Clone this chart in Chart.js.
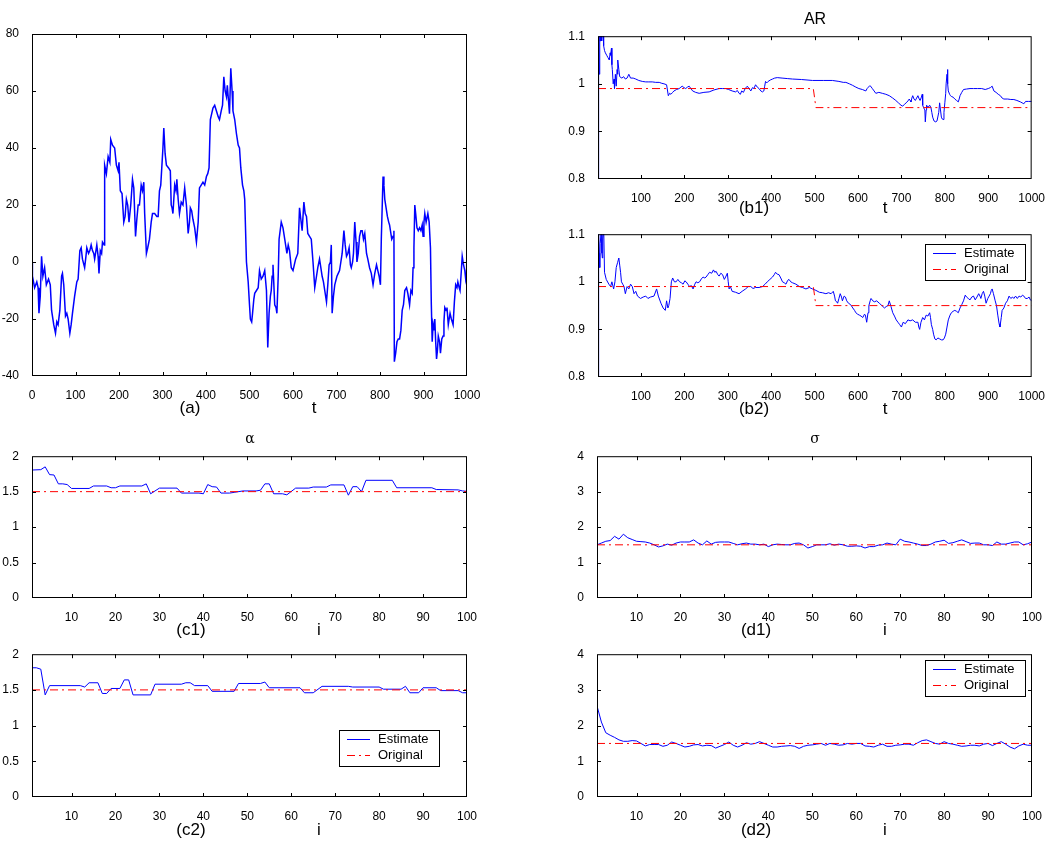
<!DOCTYPE html>
<html>
<head>
<meta charset="utf-8">
<script src="https://cdn.jsdelivr.net/npm/chart.js@4.4.1/dist/chart.umd.min.js"></script>
<style>
  body { margin: 0; background: #fff; width: 1049px; height: 844px; position: relative; overflow: hidden;
         font-family: "Liberation Sans", Arial, sans-serif; }
  canvas { position: absolute; }
  .lbl { position: absolute; transform: translate(-50%, -50%); white-space: nowrap; color: #000; }
  .cap { font-size: 17px; }
  .ttl { font-size: 16px; }
  .sym { font-family: "DejaVu Serif", "Liberation Serif", serif; font-size: 14px; }
</style>
</head>
<body>
<canvas id="chartA" width="490" height="380" style="left:0;top:20px"></canvas>
<canvas id="chartB1" width="489" height="179" style="left:560px;top:24px"></canvas>
<canvas id="chartB2" width="489" height="179" style="left:560px;top:222px"></canvas>
<canvas id="chartC1" width="490" height="178" style="left:0;top:444px"></canvas>
<canvas id="chartC2" width="490" height="179" style="left:0;top:642px"></canvas>
<canvas id="chartD1" width="489" height="178" style="left:560px;top:444px"></canvas>
<canvas id="chartD2" width="489" height="179" style="left:560px;top:642px"></canvas>

<div class="lbl ttl" style="left:815px;top:19px">AR</div>
<div class="lbl sym" style="left:250px;top:438px">α</div>
<div class="lbl sym" style="left:815px;top:438px">σ</div>

<div class="lbl cap" style="left:190px;top:408px">(a)</div>
<div class="lbl cap" style="left:314px;top:408px">t</div>
<div class="lbl cap" style="left:754px;top:208px">(b1)</div>
<div class="lbl cap" style="left:885px;top:208px">t</div>
<div class="lbl cap" style="left:754px;top:409px">(b2)</div>
<div class="lbl cap" style="left:885px;top:409px">t</div>
<div class="lbl cap" style="left:191px;top:630px">(c1)</div>
<div class="lbl cap" style="left:319px;top:630px">i</div>
<div class="lbl cap" style="left:191px;top:830px">(c2)</div>
<div class="lbl cap" style="left:319px;top:830px">i</div>
<div class="lbl cap" style="left:756px;top:630px">(d1)</div>
<div class="lbl cap" style="left:885px;top:630px">i</div>
<div class="lbl cap" style="left:756px;top:830px">(d2)</div>
<div class="lbl cap" style="left:885px;top:830px">i</div>

<script>
// tick values
const ticksT0 = [0, 100, 200, 300, 400, 500, 600, 700, 800, 900, 1000];
const ticksT = [100, 200, 300, 400, 500, 600, 700, 800, 900, 1000];
const ticksI = [10, 20, 30, 40, 50, 60, 70, 80, 90, 100];
const yTicksA = [-40, -20, 0, 20, 40, 60, 80];
const yTicksAR = [0.8, 0.9, 1, 1.1];
const yTicksAlpha = [0, 0.5, 1, 1.5, 2];
const yTicksSigma = [0, 1, 2, 3, 4];

// simulated series, [t, value]
const seriesA = [[0,0],[1,-5],[6,-9],[11,-7],[14,-9],[16,-18],[19,-12],[22,2],[25,-5],[29,-2],[33,-8],[38,-6],[42,-8],
  [45,-17],[50,-22],[54,-25],[57,-21],[60,-22],[64,-17],[68,-5],[70,-4],[73,-8],[77,-19],[80,-18],[83,-20],[87,-25],
  [90,-22],[93,-18],[98,-12],[103,-7],[106,-6],[110,4],[113,5],[116,1],[121,-2],[124,2],[126,5],[130,3],[133,4],
  [136,6],[139,4],[142,3],[144,1],[147,4],[149,6],[152,2],[154,-4],[157,4],[160,3],[162,7],[166,6],[167,34],[171,31],
  [175,37],[179,35],[181,43],[185,41],[190,40],[194,34],[198,32],[200,35],[203,25],[207,24],[211,14],[214,16],[217,22],
  [220,20],[223,14],[227,20],[231,29],[234,26],[238,9],[241,15],[244,20],[247,20],[251,27],[254,25],[257,28],[259,17],
  [263,3],[266,5],[270,8],[274,14],[277,17],[282,17],[287,16],[290,16],[293,25],[296,27],[301,40],[303,47],[306,38],
  [309,34],[314,33],[318,32],[320,20],[322,19],[324,17],[328,27],[331,25],[333,29],[336,22],[339,17],[343,21],[347,20],
  [351,26],[355,20],[359,10],[362,14],[364,19],[367,18],[370,15],[374,12],[378,7],[382,14],[385,26],[389,27],[393,28],
  [397,27],[401,30],[404,31],[407,33],[410,50],[413,52],[416,54],[420,55],[424,53],[428,51],[431,50],[435,53],[438,55],
  [441,65],[444,60],[447,58],[449,62],[451,58],[454,52],[457,68],[460,60],[462,53],[466,50],[470,45],[474,41],[477,40],
  [480,33],[484,27],[487,25],[489,22],[493,0],[497,-7],[500,-15],[502,-20],[505,-21],[507,-18],[510,-13],[512,-11],
  [516,-10],[520,-9],[523,-3],[527,-6],[531,-5],[535,-3],[539,-10],[542,-30],[545,-18],[548,-12],[550,-10],[552,-5],
  [554,-1],[558,-15],[561,-16],[563,-18],[566,-5],[568,8],[573,14],[577,12],[581,8],[584,5],[586,3],[589,6],[592,4],
  [596,-2],[600,-3],[603,-1],[606,1],[611,3],[615,19],[618,15],[621,11],[625,21],[628,17],[631,16],[634,10],[638,9],
  [642,8],[646,0],[650,-9],[654,-5],[657,-2],[661,1],[664,-2],[667,-5],[670,-7],[673,-10],[677,-14],[680,-8],[683,-1],
  [686,0],[688,6],[690,-18],[693,-12],[696,-8],[701,-5],[704,-4],[707,-3],[710,0],[713,3],[717,11],[720,6],[723,2],
  [726,3],[729,5],[732,-1],[734,-2],[737,0],[739,3],[742,14],[745,7],[747,0],[750,3],[753,9],[756,11],[759,11],[762,8],
  [765,10],[769,3],[772,1],[776,-2],[780,-4],[784,-8],[788,-4],[792,-1],[795,-3],[798,-5],[801,-8],[803,8],[807,30],
  [809,27],[811,22],[814,19],[817,16],[820,14],[822,13],[825,10],[827,8],[830,9],[832,11],[833,-35],[836,-32],[839,-28],
  [842,-27],[845,-27],[848,-24],[851,-17],[854,-15],[857,-10],[861,-9],[864,-11],[868,-15],[871,-10],[874,-11],[876,-2],
  [878,5],[880,20],[882,17],[885,12],[888,11],[891,12],[894,11],[897,13],[899,9],[901,14],[903,17],[906,14],[910,17],
  [913,14],[916,5],[918,-15],[920,-28],[922,-22],[924,-24],[926,-20],[928,-28],[930,-34],[932,-31],[934,-26],[937,-28],
  [939,-32],[942,-27],[945,-26],[947,-21],[949,-16],[952,-17],[954,-16],[957,-22],[959,-20],[961,-18],[964,-20],
  [966,-21],[968,-22],[971,-14],[974,-8],[977,-9],[979,-7],[982,-9],[984,-10],[987,-3],[989,2],[992,-1],[995,-3],
  [997,-6],[999,-4],[1000,10]];

// AR coefficient estimates
const estB1 = [[1,0.8],[2,1.03],[3,1.1],[4,1.02],[5,1.12],[6,1.09],[7,1.12],[8,1.1],[9,1.13],[10,1.09],[11,1.12],
  [12,1.1],[13,1.11],[14,1.08],[16,1.07],[18,1.065],[21,1.06],[24,1.055],[27,1.05],[29,1.065],[30,1.06],[32,1.075],
  [33,1.04],[34,1.03],[36,1.0],[38,1.01],[39,0.99],[41,1.02],[43,0.995],[45,1.03],[46,1.02],[47,1.05],[49,1.03],
  [51,1.015],[56,1.012],[60,1.015],[64,1.01],[68,1.012],[72,1.02],[76,1.012],[82,1.012],[88,1.01],[95,1.007],
  [103,1.005],[111,1.004],[118,1.004],[126,1.004],[134,1.003],[142,1.003],[148,1.001],[153,1.0],[159,0.998],
  [163,0.975],[166,0.98],[169,0.978],[173,0.982],[176,0.985],[182,0.988],[188,0.99],[192,0.993],[195,0.995],
  [199,0.992],[203,0.99],[207,0.993],[211,0.995],[215,0.99],[219,0.985],[226,0.982],[234,0.98],[245,0.982],
  [257,0.983],[268,0.987],[280,0.99],[288,0.99],[295,0.99],[302,0.988],[310,0.985],[318,0.983],[322,0.986],
  [326,0.98],[329,0.978],[332,0.985],[336,0.982],[340,0.99],[345,0.995],[349,0.99],[353,0.985],[357,0.992],[360,0.99],
  [364,0.998],[368,0.993],[372,0.99],[376,0.985],[380,0.983],[383,0.985],[385,0.995],[387,1.005],[390,1.002],
  [393,1.005],[398,1.008],[403,1.01],[408,1.012],[414,1.013],[425,1.012],[437,1.011],[449,1.01],[470,1.009],
  [495,1.007],[520,1.007],[541,1.007],[556,1.005],[566,1.003],[572,1.003],[580,1.0],[587,0.997],[595,0.993],
  [602,0.99],[610,0.988],[618,0.985],[621,0.99],[624,0.993],[627,0.996],[629,0.995],[633,0.99],[637,0.985],
  [641,0.98],[648,0.982],[656,0.98],[664,0.978],[672,0.975],[680,0.97],[687,0.965],[693,0.96],[699,0.955],
  [703,0.953],[707,0.957],[711,0.96],[715,0.964],[718,0.968],[720,0.965],[722,0.962],[724,0.97],[726,0.975],
  [729,0.968],[732,0.965],[735,0.97],[738,0.975],[741,0.968],[743,0.965],[746,0.972],[748,0.978],[749,0.955],
  [751,0.95],[754,0.945],[755,0.92],[757,0.945],[758,0.955],[761,0.95],[765,0.955],[768,0.95],[770,0.94],[772,0.93],
  [775,0.922],[779,0.92],[782,0.922],[784,0.922],[786,0.94],[788,0.96],[790,0.945],[792,0.93],[794,0.926],
  [796,0.925],[798,0.94],[800,0.96],[802,0.98],[803,1.0],[805,1.02],[806,1.03],[807,1.0],[808,0.985],[811,0.978],
  [813,0.975],[816,0.973],[819,0.972],[823,0.968],[827,0.965],[831,0.962],[833,0.968],[835,0.975],[839,0.982],
  [843,0.988],[850,0.989],[858,0.99],[866,0.99],[875,0.99],[885,0.99],[893,0.988],[900,0.99],[905,0.992],
  [909,0.995],[913,0.985],[918,0.982],[923,0.978],[928,0.975],[932,0.97],[936,0.968],[945,0.968],[952,0.967],
  [959,0.967],[966,0.965],[974,0.962],[978,0.96],[982,0.958],[986,0.963],[993,0.963],[1000,0.963]];

const estB2 = [[1,0.8],[2,0.976],[3,1.1],[4,1.06],[5,1.03],[6,1.08],[8,1.1],[10,1.06],[11,1.05],[12,1.09],[13,1.1],
  [14,1.12],[16,1.02],[20,1.005],[26,0.995],[30,0.99],[33,1.0],[37,0.985],[40,1.0],[43,1.03],[46,1.04],[49,1.05],
  [51,1.035],[53,1.02],[55,1.0],[58,0.995],[61,0.99],[64,0.975],[68,0.99],[72,0.985],[76,0.995],[80,0.99],
  [84,0.975],[88,0.98],[92,0.97],[99,0.965],[105,0.968],[111,0.97],[116,0.965],[122,0.968],[130,0.97],[136,0.985],
  [140,0.97],[146,0.955],[151,0.945],[156,0.94],[159,0.96],[162,0.945],[164,0.95],[167,0.965],[170,1.0],[173,1.008],
  [177,1.0],[181,1.0],[185,1.005],[189,1.0],[193,0.998],[197,0.995],[201,1.002],[204,1.0],[208,0.995],[212,0.99],
  [216,0.992],[220,0.985],[224,0.995],[227,1.0],[231,0.998],[235,1.0],[239,1.006],[243,1.01],[247,1.008],[250,1.01],
  [254,1.015],[258,1.02],[263,1.018],[267,1.025],[270,1.02],[273,1.022],[277,1.015],[280,1.012],[284,1.018],
  [288,1.015],[292,1.005],[295,1.01],[299,1.018],[301,1.0],[303,0.985],[306,0.99],[310,0.98],[318,0.978],[326,0.975],
  [333,0.98],[341,0.985],[347,0.99],[353,0.99],[358,0.986],[364,0.988],[372,0.988],[380,0.99],[386,0.995],[391,1.0],
  [397,1.005],[403,1.01],[407,1.015],[410,1.02],[414,1.016],[418,1.015],[422,1.008],[426,1.0],[430,0.998],
  [434,0.995],[438,1.003],[441,1.005],[445,1.0],[449,0.998],[457,0.995],[465,0.99],[472,0.988],[480,0.985],
  [488,0.988],[495,0.985],[503,0.982],[511,0.978],[518,0.977],[526,0.975],[532,0.977],[538,0.975],[543,0.98],
  [546,0.97],[548,0.96],[551,0.958],[553,0.955],[556,0.965],[559,0.975],[562,0.968],[564,0.96],[568,0.97],
  [571,0.968],[574,0.96],[578,0.955],[583,0.952],[588,0.945],[592,0.94],[595,0.935],[599,0.932],[603,0.93],
  [607,0.928],[611,0.925],[615,0.932],[617,0.93],[620,0.915],[623,0.935],[625,0.95],[628,0.96],[630,0.965],
  [634,0.96],[638,0.958],[643,0.96],[649,0.955],[655,0.95],[661,0.945],[665,0.948],[669,0.95],[672,0.96],
  [676,0.948],[680,0.935],[684,0.928],[688,0.92],[692,0.915],[696,0.91],[700,0.905],[704,0.915],[709,0.912],
  [715,0.92],[720,0.918],[726,0.92],[732,0.915],[738,0.915],[740,0.905],[742,0.9],[745,0.915],[749,0.925],
  [753,0.92],[757,0.93],[761,0.928],[765,0.935],[767,0.925],[769,0.91],[772,0.9],[774,0.89],[777,0.88],[780,0.878],
  [784,0.882],[788,0.88],[792,0.878],[796,0.878],[799,0.882],[802,0.89],[805,0.905],[808,0.92],[812,0.93],
  [815,0.935],[819,0.938],[823,0.94],[827,0.938],[831,0.935],[835,0.945],[839,0.952],[843,0.96],[847,0.972],
  [850,0.968],[854,0.965],[858,0.962],[862,0.968],[866,0.97],[870,0.962],[874,0.968],[878,0.975],[881,0.97],
  [883,0.965],[886,0.975],[889,0.98],[892,0.97],[895,0.955],[899,0.965],[902,0.97],[905,0.975],[907,0.982],
  [909,0.985],[912,0.975],[916,0.96],[919,0.95],[922,0.93],[925,0.912],[927,0.905],[930,0.925],[932,0.94],
  [936,0.945],[940,0.955],[944,0.96],[948,0.97],[952,0.965],[956,0.968],[959,0.965],[963,0.97],[967,0.965],
  [971,0.97],[975,0.968],[979,0.972],[982,0.97],[986,0.965],[990,0.965],[994,0.968],[997,0.962],[1000,0.96]];

const trueAR = [[1,0.99],[497,0.99],[503,0.95],[1000,0.95]];

// alpha estimates per window i
const estC1 = [[1,1.805],[3,1.81],[4,1.85],[5,1.74],[6,1.735],[7,1.61],[8,1.61],[9,1.6],[10,1.545],[14,1.545],
  [15,1.58],[18,1.58],[19,1.555],[20,1.555],[21,1.58],[26,1.58],[27,1.61],[28,1.47],[30,1.55],[34,1.55],[35,1.48],
  [39,1.48],[40,1.47],[41,1.6],[42,1.57],[43,1.565],[44,1.48],[46,1.48],[47,1.49],[49,1.51],[52,1.51],[53,1.52],
  [54,1.61],[55,1.61],[56,1.47],[58,1.47],[59,1.455],[61,1.55],[64,1.55],[65,1.565],[68,1.565],[69,1.595],
  [72,1.595],[73,1.45],[74,1.57],[75,1.57],[76,1.5],[77,1.66],[83,1.66],[84,1.555],[92,1.555],[93,1.53],[98,1.525],
  [99,1.51],[100,1.505]];
const estC2 = [[1,1.81],[2,1.81],[3,1.79],[4,1.43],[5,1.56],[12,1.56],[13,1.54],[14,1.6],[16,1.6],[17,1.45],
  [18,1.45],[19,1.52],[21,1.52],[22,1.64],[23,1.64],[24,1.43],[28,1.43],[29,1.58],[35,1.58],[36,1.6],[37,1.6],
  [38,1.56],[41,1.56],[42,1.48],[47,1.48],[48,1.59],[53,1.59],[54,1.61],[55,1.53],[62,1.53],[63,1.46],[65,1.46],
  [67,1.55],[73,1.55],[74,1.54],[80,1.54],[81,1.51],[85,1.51],[86,1.55],[87,1.46],[89,1.46],[90,1.53],[93,1.53],
  [94,1.49],[98,1.49],[99,1.46],[100,1.46]];

// sigma estimates per window i
const estD1 = [[1,1.5],[2,1.55],[3,1.6],[4,1.62],[5,1.74],[6,1.66],[7,1.8],[8,1.7],[9,1.65],[10,1.6],[11,1.59],
  [12,1.58],[13,1.55],[14,1.5],[15,1.44],[16,1.47],[17,1.52],[18,1.49],[19,1.55],[20,1.58],[21,1.58],[22,1.58],
  [23,1.64],[24,1.55],[25,1.5],[26,1.61],[27,1.52],[28,1.57],[29,1.58],[30,1.58],[31,1.58],[32,1.54],[33,1.5],
  [34,1.53],[35,1.55],[36,1.52],[37,1.52],[38,1.5],[39,1.52],[40,1.45],[41,1.5],[42,1.52],[43,1.51],[44,1.5],
  [45,1.5],[46,1.54],[47,1.55],[48,1.5],[49,1.41],[50,1.45],[51,1.5],[52,1.5],[53,1.5],[54,1.53],[55,1.49],
  [56,1.52],[57,1.5],[58,1.46],[59,1.46],[60,1.47],[61,1.46],[62,1.41],[63,1.45],[64,1.45],[65,1.49],[66,1.5],
  [67,1.55],[68,1.52],[69,1.5],[70,1.66],[71,1.6],[72,1.58],[73,1.55],[74,1.52],[75,1.48],[76,1.48],[77,1.52],
  [78,1.58],[79,1.6],[80,1.63],[81,1.54],[82,1.56],[83,1.6],[84,1.64],[85,1.59],[86,1.54],[87,1.55],[88,1.55],
  [89,1.5],[90,1.5],[91,1.48],[92,1.58],[93,1.52],[94,1.52],[95,1.55],[96,1.58],[97,1.58],[98,1.5],[99,1.53],
  [100,1.58]];
const estD2 = [[1,2.55],[2,2.1],[3,1.8],[4,1.73],[5,1.67],[6,1.6],[7,1.56],[8,1.56],[9,1.58],[10,1.57],[11,1.5],
  [12,1.43],[13,1.47],[14,1.47],[15,1.47],[16,1.42],[17,1.45],[18,1.54],[19,1.5],[20,1.45],[21,1.4],[22,1.42],
  [23,1.46],[24,1.47],[25,1.43],[26,1.45],[27,1.44],[28,1.37],[29,1.42],[30,1.47],[31,1.54],[32,1.45],[33,1.4],
  [34,1.45],[35,1.52],[36,1.48],[37,1.5],[38,1.55],[39,1.5],[40,1.45],[41,1.4],[42,1.4],[43,1.42],[44,1.43],
  [45,1.44],[46,1.42],[47,1.36],[48,1.42],[49,1.45],[50,1.46],[51,1.48],[52,1.5],[53,1.45],[54,1.5],[55,1.48],
  [56,1.45],[57,1.46],[58,1.5],[59,1.48],[60,1.5],[61,1.5],[62,1.43],[63,1.42],[64,1.4],[65,1.45],[66,1.48],
  [67,1.42],[68,1.42],[69,1.45],[70,1.46],[71,1.48],[72,1.48],[73,1.45],[74,1.52],[75,1.58],[76,1.6],[77,1.55],
  [78,1.5],[79,1.48],[80,1.55],[81,1.5],[82,1.48],[83,1.45],[84,1.42],[85,1.43],[86,1.45],[87,1.45],[88,1.43],
  [89,1.48],[90,1.5],[91,1.44],[92,1.5],[93,1.55],[94,1.48],[95,1.4],[96,1.35],[97,1.43],[98,1.48],[99,1.45],
  [100,1.45]];

const trueAlpha = [[1,1.5],[100,1.5]];
const trueSigma = [[1,1.5],[100,1.5]];

const BLUE = "#0000ff";
const RED = "#ff0000";
const DASHDOT = [8, 4, 2, 4];
const FONT = "'Liberation Sans', Arial, sans-serif";

Chart.defaults.font.family = FONT;
Chart.defaults.font.size = 12;
Chart.defaults.color = "#000";

// matlab-like box with inward ticks on all four sides
const frameTicks = {
  id: "frameTicks",
  afterDraw(chart) {
    const { ctx, chartArea: a } = chart;
    const len = 4;
    ctx.save();
    ctx.strokeStyle = "#000";
    ctx.lineWidth = 1;
    ctx.strokeRect(a.left + 0.5, a.top + 0.5, a.width - 1, a.height - 1);
    ctx.beginPath();
    chart.scales.x.ticks.forEach((t) => {
      const x = Math.round(chart.scales.x.getPixelForValue(t.value)) + 0.5;
      if (x < a.left + 2 || x > a.right - 2) return;
      ctx.moveTo(x, a.bottom);
      ctx.lineTo(x, a.bottom - len);
      ctx.moveTo(x, a.top);
      ctx.lineTo(x, a.top + len);
    });
    chart.scales.y.ticks.forEach((t) => {
      const y = Math.round(chart.scales.y.getPixelForValue(t.value)) + 0.5;
      if (y < a.top + 2 || y > a.bottom - 2) return;
      ctx.moveTo(a.left, y);
      ctx.lineTo(a.left + len, y);
      ctx.moveTo(a.right, y);
      ctx.lineTo(a.right - len, y);
    });
    ctx.stroke();
    ctx.restore();
  },
};

// boxed legend inside the plot area, styled from each dataset's resolved line options
const boxLegend = {
  id: "boxLegend",
  afterDraw(chart, args, opts) {
    const { ctx, chartArea: a } = chart;
    const w = 100, h = 36;
    const left = Math.round(a.right - opts.right - w);
    const top = Math.round(a.top + opts.top);
    ctx.save();
    ctx.fillStyle = "#fff";
    ctx.fillRect(left, top, w, h);
    ctx.strokeStyle = "#000";
    ctx.lineWidth = 1;
    ctx.strokeRect(left + 0.5, top + 0.5, w, h);
    chart.data.datasets.forEach((ds, k) => {
      const lineOpts = chart.getDatasetMeta(k).dataset.options;
      const y = top + 9 + k * 16 + 0.5;
      ctx.beginPath();
      ctx.strokeStyle = lineOpts.borderColor;
      ctx.lineWidth = 1;
      ctx.setLineDash(lineOpts.borderDash || []);
      ctx.moveTo(left + 8, y);
      ctx.lineTo(left + 31, y);
      ctx.stroke();
      ctx.setLineDash([]);
      ctx.fillStyle = "#000";
      ctx.font = "13px " + FONT;
      ctx.textBaseline = "middle";
      ctx.fillText(ds.label, left + 39, y);
    });
    ctx.restore();
  },
};

function makePanel(id, p) {
  const datasets = p.series.map((s) => ({
    label: s.label,
    data: s.points.map(([x, y]) => ({ x, y })),
    borderColor: s.color,
    borderWidth: s.width || 1,
    borderDash: s.dash || [],
    pointRadius: 0,
    tension: 0,
    order: s.order || 0,
  }));
  return new Chart(document.getElementById(id), {
    type: "line",
    data: { datasets },
    plugins: p.legend ? [frameTicks, boxLegend] : [frameTicks],
    options: {
      responsive: false,
      animation: false,
      events: [],
      layout: { padding: { top: p.padTop, right: p.padRight, left: 0, bottom: 0 } },
      scales: {
        x: {
          type: "linear",
          min: p.xMin,
          max: p.xMax,
          grid: { display: false },
          border: { display: false },
          ticks: { padding: 4, maxRotation: 0, autoSkip: false, callback: (v) => String(v) },
          afterBuildTicks: (sc) => { sc.ticks = p.xTicks.map((v) => ({ value: v })); },
          afterFit: (sc) => { sc.height = 24; },
        },
        y: {
          type: "linear",
          min: p.yMin,
          max: p.yMax,
          grid: { display: false },
          border: { display: false },
          ticks: { padding: 5, autoSkip: false, callback: (v) => String(v) },
          afterBuildTicks: (sc) => { sc.ticks = p.yTicks.map((v) => ({ value: v })); },
          afterFit: (sc) => { sc.width = p.yWidth; },
        },
      },
      plugins: {
        legend: { display: false },
        tooltip: { enabled: false },
        boxLegend: p.legend || {},
      },
    },
  });
}

const est = (points, width) => ({ label: "Estimate", points, color: BLUE, width: width || 1, order: 1 });
const orig = (points) => ({ label: "Original", points, color: RED, dash: DASHDOT, order: 0 });

makePanel("chartA", {
  series: [est(seriesA, 1.5)],
  xMin: 0, xMax: 1000, xTicks: ticksT0,
  yMin: -40, yMax: 80, yTicks: yTicksA,
  padTop: 14, padRight: 23, yWidth: 32,
});

makePanel("chartB1", {
  series: [est(estB1), orig(trueAR)],
  xMin: 1, xMax: 1000, xTicks: ticksT,
  yMin: 0.8, yMax: 1.1, yTicks: yTicksAR,
  padTop: 10, padRight: 17, yWidth: 38,
});

makePanel("chartB2", {
  series: [est(estB2), orig(trueAR)],
  xMin: 1, xMax: 1000, xTicks: ticksT,
  yMin: 0.8, yMax: 1.1, yTicks: yTicksAR,
  padTop: 10, padRight: 17, yWidth: 38,
  legend: { right: 7, top: 10 },
});

makePanel("chartC1", {
  series: [est(estC1), orig(trueAlpha)],
  xMin: 1, xMax: 100, xTicks: ticksI,
  yMin: 0, yMax: 2, yTicks: yTicksAlpha,
  padTop: 10, padRight: 23, yWidth: 32,
});

makePanel("chartC2", {
  series: [est(estC2), orig(trueAlpha)],
  xMin: 1, xMax: 100, xTicks: ticksI,
  yMin: 0, yMax: 2, yTicks: yTicksAlpha,
  padTop: 10, padRight: 23, yWidth: 32,
  legend: { right: 28, top: 76 },
});

makePanel("chartD1", {
  series: [est(estD1), orig(trueSigma)],
  xMin: 1, xMax: 100, xTicks: ticksI,
  yMin: 0, yMax: 4, yTicks: yTicksSigma,
  padTop: 10, padRight: 17, yWidth: 37,
});

makePanel("chartD2", {
  series: [est(estD2), orig(trueSigma)],
  xMin: 1, xMax: 100, xTicks: ticksI,
  yMin: 0, yMax: 4, yTicks: yTicksSigma,
  padTop: 10, padRight: 17, yWidth: 37,
  legend: { right: 7, top: 6 },
});
</script>
</body>
</html>
